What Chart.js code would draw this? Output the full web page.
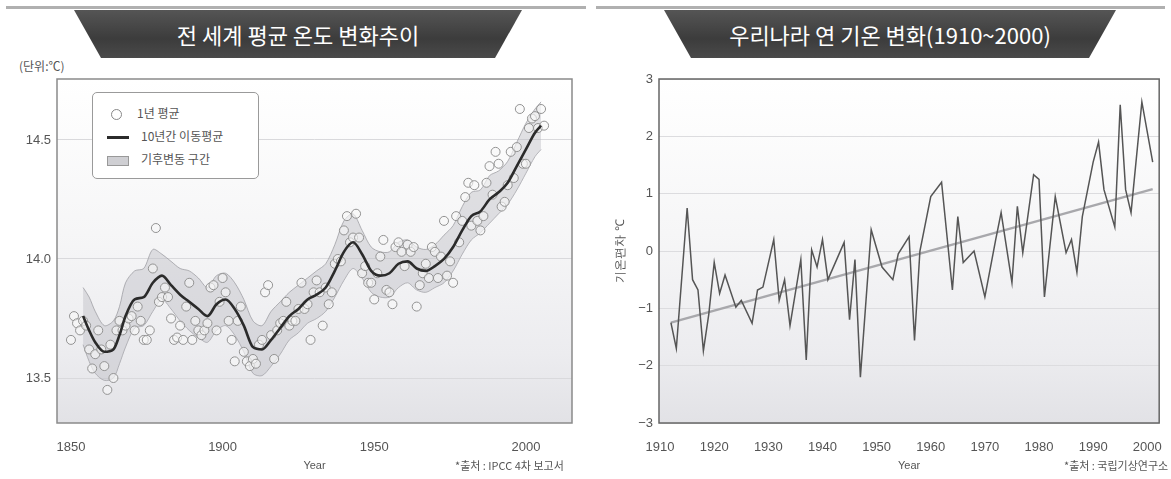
<!DOCTYPE html>
<html>
<head>
<meta charset="utf-8">
<script src="https://cdn.jsdelivr.net/npm/chart.js@4.4.0/dist/chart.umd.min.js"></script>
<style>
body { margin: 0; width: 1171px; height: 479px; overflow: hidden; position: relative; background: #fff;
  font-family: "Noto Sans CJK KR", "Noto Sans", sans-serif; color: #444; }
.rule { position: absolute; top: 6px; height: 3px; background: #b0b0b0; }
.banner { position: absolute; top: 10px; height: 48px; line-height: 48px; color: #fff; font-size: 22px;
  text-align: center; background: linear-gradient(#555, #3c3c3c 60%, #4a4a4a);
  clip-path: polygon(0 0, 100% 0, calc(100% - 27px) 100%, 27px 100%); }
.box { position: absolute; top: 62px; width: 590px; height: 417px; }
.note { position: absolute; font-size: 11px; color: #555; white-space: nowrap; }
#legend { position: absolute; left: 92px; top: 92px; width: 165px; height: 85px; border: 1px solid #9a9a9a;
  border-radius: 5px; background: #fff; font-size: 12px; color: #555; }
#legend div { position: absolute; left: 14px; height: 20px; line-height: 20px; }
#legend i { display: inline-block; vertical-align: middle; margin-right: 12px; }
</style>
</head>
<body>
<div class="rule" style="left:6px;width:580px"></div>
<div class="rule" style="left:596px;width:569px"></div>
<div class="banner" style="left:74px;width:448px">전 세계 평균 온도 변화추이</div>
<div class="banner" style="left:664px;width:452px">우리나라 연 기온 변화(1910~2000)</div>

<div class="note" style="left:19px;top:57px;font-size:12px">(단위:℃)</div>

<div class="box" style="left:0"><canvas id="left" width="590" height="417"></canvas></div>
<div class="box" style="left:590px;width:581px"><canvas id="right" width="581" height="417"></canvas></div>

<div id="legend">
  <div style="top:10px"><i style="width:9px;height:9px;border:1px solid #888;border-radius:50%;margin-left:4px;margin-right:15px"></i>1년 평균</div>
  <div style="top:33px"><i style="width:22px;height:3px;background:#2b2b2b"></i>10년간 이동평균</div>
  <div style="top:56px"><i style="width:20px;height:8px;background:#cfcfd3;border:1px solid #999"></i>기후변동 구간</div>
</div>

<div class="note" style="left:455px;top:457px">*출처 : IPCC 4차 보고서</div>
<div class="note" style="left:1064px;top:457px">*출처 : 국립기상연구소</div>

<script>
// 전 세계 평균 온도 (1850~2006), 1년 평균
var firstYear = 1850;
var annualTemp = [
  13.66, 13.76, 13.73, 13.70, 13.74, 13.72, 13.62, 13.54, 13.60, 13.70,
  13.62, 13.55, 13.45, 13.64, 13.50, 13.70, 13.74, 13.70, 13.72, 13.75,
  13.76, 13.70, 13.80, 13.74, 13.66, 13.66, 13.70, 13.96, 14.13, 13.82,
  13.84, 13.88, 13.84, 13.75, 13.66, 13.67, 13.72, 13.66, 13.80, 13.90,
  13.66, 13.74, 13.70, 13.68, 13.70, 13.73, 13.88, 13.89, 13.70, 13.82,
  13.92, 13.86, 13.74, 13.66, 13.57, 13.74, 13.80, 13.61, 13.57, 13.55,
  13.58, 13.56, 13.64, 13.66, 13.86, 13.89, 13.68, 13.58, 13.70, 13.73,
  13.74, 13.82, 13.72, 13.74, 13.74, 13.79, 13.90, 13.79, 13.81, 13.66,
  13.86, 13.91, 13.86, 13.72, 13.88, 13.81, 13.86, 13.98, 14.00, 13.99,
  14.12, 14.18, 14.07, 14.09, 14.19, 14.09, 13.94, 13.97, 13.90, 13.90,
  13.83, 13.94, 14.01, 14.08, 13.87, 13.86, 13.81, 14.05, 14.07, 14.03,
  13.97, 14.06, 14.03, 14.05, 13.80, 13.89, 13.94, 13.98, 13.92, 14.05,
  14.03, 13.92, 14.01, 14.16, 13.93, 13.99, 13.90, 14.18, 14.07, 14.16,
  14.26, 14.32, 14.14, 14.31, 14.16, 14.12, 14.18, 14.32, 14.39, 14.27,
  14.45, 14.40, 14.22, 14.24, 14.31, 14.45, 14.34, 14.47, 14.63, 14.40,
  14.40, 14.55, 14.59, 14.60, 14.55, 14.63, 14.56
];

// 10년간 이동평균 / 기후변동 구간
var smoothYears = [1854, 1856, 1858, 1861, 1864, 1866, 1868, 1871, 1874, 1877, 1880, 1883, 1886, 1889,
  1892, 1895, 1898, 1901, 1904, 1907, 1910, 1913, 1916, 1919, 1922, 1925, 1928, 1931, 1934, 1937,
  1940, 1943, 1946, 1949, 1952, 1955, 1958, 1961, 1964, 1967, 1970, 1973, 1976, 1979, 1982, 1985,
  1988, 1991, 1994, 1997, 2000, 2003, 2005];
var smoothTemp = [13.76, 13.70, 13.65, 13.61, 13.62, 13.68, 13.76, 13.83, 13.84, 13.90, 13.93, 13.89, 13.85, 13.82,
  13.79, 13.76, 13.81, 13.83, 13.79, 13.72, 13.63, 13.62, 13.66, 13.71, 13.76, 13.79, 13.83, 13.85, 13.88, 13.95,
  14.03, 14.07, 14.02, 13.95, 13.93, 13.94, 13.98, 13.99, 13.96, 13.95, 13.97, 14.00, 14.05, 14.12, 14.18, 14.20,
  14.25, 14.28, 14.32, 14.39, 14.46, 14.53, 14.56];
var bandUpper = [13.88, 13.84, 13.78, 13.72, 13.74, 13.80, 13.90, 13.95, 13.96, 14.04, 14.02, 13.99, 13.96, 13.95,
  13.92, 13.88, 13.93, 13.94, 13.90, 13.83, 13.74, 13.72, 13.78, 13.82, 13.86, 13.89, 13.92, 13.95, 13.98, 14.06,
  14.16, 14.19, 14.12, 14.05, 14.03, 14.03, 14.07, 14.08, 14.05, 14.04, 14.06, 14.10, 14.14, 14.22, 14.28, 14.29,
  14.35, 14.37, 14.41, 14.49, 14.57, 14.63, 14.66];
var bandLower = [13.64, 13.57, 13.52, 13.49, 13.50, 13.56, 13.63, 13.71, 13.72, 13.78, 13.83, 13.79, 13.74, 13.70,
  13.67, 13.65, 13.70, 13.72, 13.68, 13.61, 13.52, 13.51, 13.55, 13.60, 13.66, 13.69, 13.73, 13.75, 13.78, 13.84,
  13.91, 13.96, 13.92, 13.86, 13.84, 13.84, 13.88, 13.90, 13.87, 13.86, 13.88, 13.90, 13.95, 14.02, 14.08, 14.11,
  14.15, 14.19, 14.23, 14.29, 14.36, 14.43, 14.46];

// 우리나라 연 기온 편차
var krYears = [1912, 1913, 1915, 1916, 1917, 1918, 1919, 1920, 1921, 1922, 1924, 1925, 1927, 1928, 1929,
  1931, 1932, 1933, 1934, 1936, 1937, 1938, 1939, 1940, 1941, 1944, 1945, 1946, 1947, 1949, 1951, 1953,
  1954, 1956, 1957, 1958, 1960, 1962, 1964, 1965, 1966, 1968, 1970, 1972, 1973, 1975, 1976, 1977, 1979,
  1980, 1981, 1983, 1985, 1986, 1987, 1988, 1990, 1991, 1992, 1994, 1995, 1996, 1997, 1999, 2001];
var krAnomaly = [-1.25, -1.7, 0.75, -0.5, -0.68, -1.74, -1.1, -0.2, -0.74, -0.42, -0.98, -0.86, -1.26, -0.68, -0.63,
  0.2, -0.86, -0.5, -1.3, -0.15, -1.9, 0.02, -0.28, 0.2, -0.5, 0.15, -1.2, -0.15, -2.2, 0.37, -0.28, -0.5,
  -0.05, 0.25, -1.56, 0, 0.95, 1.2, -0.68, 0.6, -0.2, 0, -0.8, 0.2, 0.67, -0.55, 0.78, -0.03, 1.33,
  1.25, -0.8, 0.95, -0.03, 0.2, -0.37, 0.6, 1.55, 1.9, 1.07, 0.42, 2.55, 1.07, 0.67, 2.6, 1.55];
var trendYears = [1912, 2001];
var trendValues = [-1.25, 1.08];

// 눈금
var leftXTicks = [1850, 1900, 1950, 2000];
var leftYTicks = [13.5, 14.0, 14.5];
var rightXTicks = [1910, 1920, 1930, 1940, 1950, 1960, 1970, 1980, 1990, 2000];
var rightYTicks = [-3, -2, -1, 0, 1, 2, 3];

function pairs(xs, ys) {
  var out = [];
  for (var i = 0; i < xs.length; i++) out.push({x: xs[i], y: ys[i]});
  return out;
}
var annualPts = [];
for (var i = 0; i < annualTemp.length; i++) annualPts.push({x: firstYear + i, y: annualTemp[i]});

var tickFont = {family: "'Liberation Sans Narrow', 'Liberation Sans', sans-serif", size: 13};

// 플롯 배경(위는 흰색, 아래로 갈수록 회색)과 테두리
var plotFrame = {
  id: 'plotFrame',
  beforeDraw: function(chart) {
    var a = chart.chartArea, ctx = chart.ctx;
    var g = ctx.createLinearGradient(0, a.top, 0, a.bottom);
    g.addColorStop(0, '#ffffff');
    g.addColorStop(0.45, '#f6f6f7');
    g.addColorStop(0.8, '#ececef');
    g.addColorStop(1, '#e2e2e6');
    ctx.save();
    ctx.fillStyle = g;
    ctx.fillRect(a.left, a.top, a.right - a.left, a.bottom - a.top);
    ctx.restore();
  },
  afterDraw: function(chart) {
    var a = chart.chartArea, ctx = chart.ctx;
    ctx.save();
    ctx.strokeStyle = chart.options.frameColor || '#777';
    ctx.lineWidth = 1.5;
    ctx.strokeRect(a.left, a.top, a.right - a.left, a.bottom - a.top);
    ctx.restore();
  }
};

function fixedTicks(list) {
  return function(scale) { scale.ticks = list.map(function(v) { return {value: v}; }); };
}
function plainYear(v) { return String(v); }

new Chart(document.getElementById('left'), {
  type: 'line',
  data: {
    datasets: [
      { data: pairs(smoothYears, bandLower), borderColor: 'rgba(150,150,155,0.7)', borderWidth: 1,
        pointRadius: 0, fill: false, tension: 0.3, order: 3 },
      { data: pairs(smoothYears, bandUpper), borderColor: 'rgba(150,150,155,0.7)', borderWidth: 1,
        backgroundColor: 'rgba(185,185,192,0.42)', pointRadius: 0, fill: '-1', tension: 0.3, order: 2 },
      { data: annualPts, showLine: false, pointRadius: 4.5, pointBorderWidth: 1,
        pointBorderColor: '#939393', pointBackgroundColor: 'rgba(248,248,248,0.6)', order: 1 },
      { data: pairs(smoothYears, smoothTemp), borderColor: '#2b2b2b', borderWidth: 2.6,
        pointRadius: 0, cubicInterpolationMode: 'monotone', order: 0 }
    ]
  },
  options: {
    responsive: false, animation: false, frameColor: '#8a8a8a',
    layout: { padding: { top: 17, right: 18, left: 0, bottom: 0 } },
    plugins: { legend: { display: false }, tooltip: { enabled: false } },
    scales: {
      x: { type: 'linear', min: 1845.4, max: 2015.2,
        afterBuildTicks: fixedTicks(leftXTicks),
        afterFit: function(s) { s.height = 56; },
        grid: { display: false }, border: { display: false },
        ticks: { font: tickFont, color: '#555', padding: 9, maxRotation: 0, callback: plainYear },
        title: { display: true, text: 'Year', font: {size: 11}, color: '#555', padding: {top: 0, bottom: 6} } },
      y: { min: 13.311, max: 14.756,
        afterBuildTicks: fixedTicks(leftYTicks),
        afterFit: function(s) { s.width = 57; },
        grid: { color: '#d9d9dc', drawTicks: false }, border: { display: false },
        ticks: { font: tickFont, color: '#555', padding: 6, callback: function(v) { return v.toFixed(1); } } }
    }
  },
  plugins: [plotFrame]
});

new Chart(document.getElementById('right'), {
  type: 'line',
  data: {
    datasets: [
      { data: pairs(krYears, krAnomaly), borderColor: '#555', borderWidth: 1.5, pointRadius: 0, order: 0 },
      { data: pairs(trendYears, trendValues), borderColor: '#a8a8ac', borderWidth: 2.5, pointRadius: 0, order: 1 }
    ]
  },
  options: {
    responsive: false, animation: false, frameColor: '#666',
    layout: { padding: { top: 17, right: 11, left: 0, bottom: 0 } },
    plugins: { legend: { display: false }, tooltip: { enabled: false } },
    scales: {
      x: { type: 'linear', min: 1909.8, max: 2002.2,
        afterBuildTicks: fixedTicks(rightXTicks),
        afterFit: function(s) { s.height = 56; },
        grid: { display: false }, border: { display: false },
        ticks: { font: tickFont, color: '#555', padding: 9, maxRotation: 0, callback: plainYear },
        title: { display: true, text: 'Year', font: {size: 11}, color: '#555', padding: {top: 0, bottom: 6} } },
      y: { min: -3, max: 3,
        afterBuildTicks: fixedTicks(rightYTicks),
        afterFit: function(s) { s.width = 69; },
        grid: { color: '#dcdcdf', drawTicks: false }, border: { display: false },
        ticks: { font: tickFont, color: '#555', padding: 6,
          callback: function(v) { return String(v).replace('-', '\u2212'); } },
        title: { display: true, text: '기온편차 ℃', font: {size: 12}, color: '#555', padding: {top: 23, bottom: 0} } }
    }
  },
  plugins: [plotFrame]
});
</script>
</body>
</html>
